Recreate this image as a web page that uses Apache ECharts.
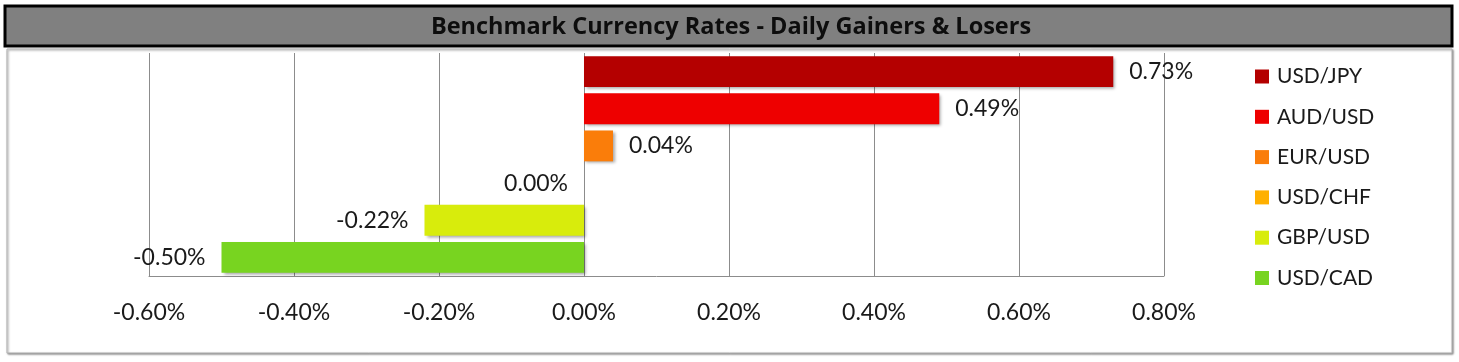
<!DOCTYPE html>
<html>
<head>
<meta charset="utf-8">
<script src="https://cdn.jsdelivr.net/npm/echarts@6/dist/echarts.min.js"></script>
<style>
html,body{margin:0;padding:0;background:#fff;}
#chart{width:1459px;height:362px;}
</style>
</head>
<body>
<div id="chart"></div>
<script>
const titleText = 'Benchmark Currency Rates - Daily Gainers & Losers';
const categories = ['USD/JPY', 'AUD/USD', 'EUR/USD', 'USD/CHF', 'GBP/USD', 'USD/CAD'];
const values = [0.73, 0.49, 0.04, 0.00, -0.22, -0.50];
const colors = ['#B40000', '#EE0000', '#FA7D0A', '#FFB000', '#D8EC0C', '#78D420'];
const tickMin = -0.6, tickMax = 0.8, tickStep = 0.2;

const FONT = 'Lato';
const chart = echarts.init(document.getElementById('chart'));

const series = categories.map((name, i) => ({
  name: name,
  type: 'bar',
  stack: 'all',
  barCategoryGap: '17%',
  data: categories.map((c, j) => (j === i ? values[i] : '-')),
  itemStyle: {
    color: colors[i],
    shadowColor: 'rgba(0,0,0,0.35)',
    shadowBlur: 3,
    shadowOffsetX: 2,
    shadowOffsetY: 2
  },
  label: {
    show: true,
    position: values[i] > 0 ? 'right' : 'left',
    distance: 16,
    formatter: p => p.value.toFixed(2) + '%',
    fontFamily: FONT,
    fontSize: 23,
    color: '#1a1a1a'
  },
  emphasis: { disabled: true },
  animation: false
}));

chart.setOption({
  animation: false,
  graphic: [
    { type: 'rect', shape: { x: 7, y: 49, width: 1445, height: 304 },
      style: { fill: '#fff', stroke: '#b0b0b0', lineWidth: 1, shadowColor: 'rgba(0,0,0,0.45)', shadowBlur: 2, shadowOffsetX: 1, shadowOffsetY: 1 }, z: -10 },
    { type: 'rect', shape: { x: 5, y: 6, width: 1447, height: 40 },
      style: { fill: '#808080', stroke: '#000', lineWidth: 3 }, z: 10 },
    { type: 'text', x: 731, y: 27, z: 11,
      style: { text: titleText, fontFamily: 'Open Sans', fontWeight: 'bold', fontSize: 23.5, fill: '#0d0d0d', align: 'center', verticalAlign: 'middle' } }
  ],
  legend: {
    orient: 'vertical',
    left: 1250,
    top: 61,
    icon: 'rect',
    itemWidth: 14,
    itemHeight: 14,
    itemGap: 19.3,
    selectedMode: false,
    textStyle: { fontFamily: FONT, fontSize: 21, color: '#1a1a1a', lineHeight: 20, padding: [0, 0, 0, 3] },
    data: categories
  },
  grid: { left: 149, right: 295, top: 53, bottom: 86, containLabel: false },
  xAxis: {
    type: 'value',
    min: tickMin,
    max: tickMax,
    interval: tickStep,
    axisLine: { show: true, lineStyle: { color: '#8c8c8c', width: 1 } },
    axisTick: { show: false },
    splitLine: { show: true, lineStyle: { color: '#8c8c8c', width: 1 } },
    axisLabel: {
      margin: 25,
      fontFamily: FONT,
      fontSize: 23,
      color: '#1a1a1a',
      formatter: v => v.toFixed(2) + '%'
    }
  },
  yAxis: {
    type: 'category',
    inverse: true,
    data: categories,
    axisLine: { show: false },
    axisTick: { show: false },
    axisLabel: { show: false },
    splitLine: { show: false }
  },
  series: series
});
</script>
</body>
</html>
